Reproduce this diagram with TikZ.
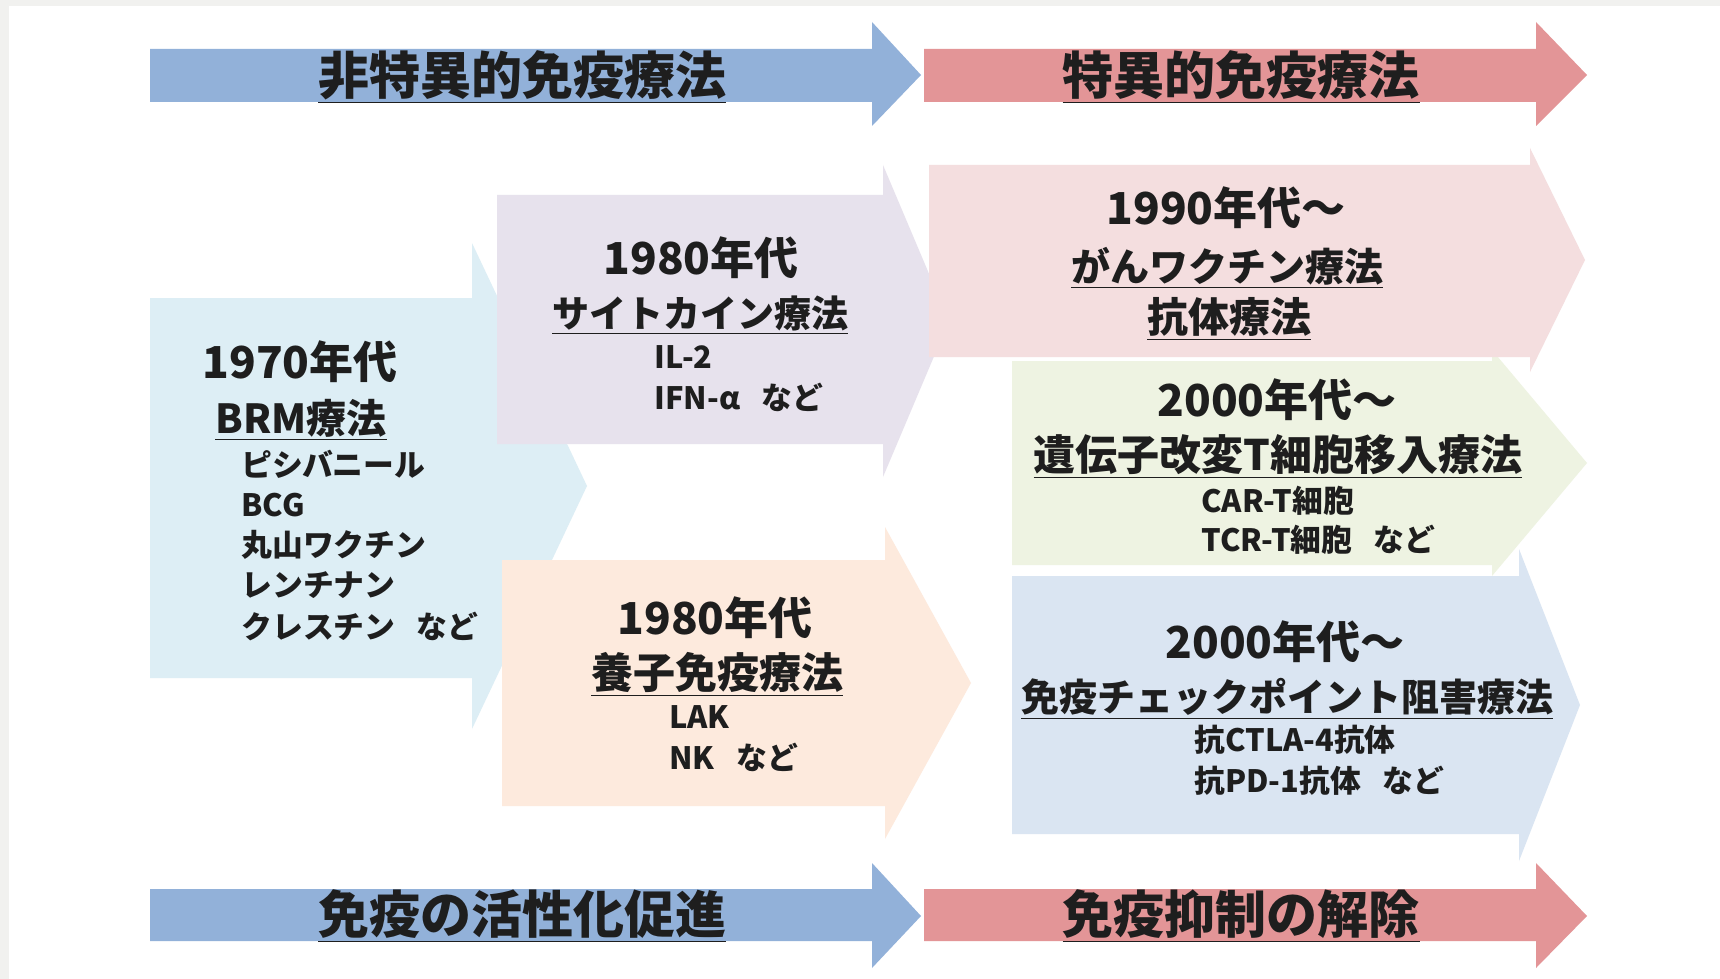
\documentclass[tikz,border=0pt]{standalone}
\usepackage{fontspec}
\setmainfont{Noto Sans CJK JP}
\definecolor{txt}{HTML}{1E1E1E}
\definecolor{framegray}{HTML}{F1F1EF}
\definecolor{hdrblue}{HTML}{92B1D9}
\definecolor{hdrred}{HTML}{E39597}
\definecolor{c70}{HTML}{DDEEF5}
\definecolor{c80a}{HTML}{E7E2ED}
\definecolor{c80b}{HTML}{FDEADD}
\definecolor{c90}{HTML}{F4DEDF}
\definecolor{c00a}{HTML}{EEF3E2}
\definecolor{c00b}{HTML}{DAE5F2}
\newcommand\barrow[9]{\fill[#1] (#2,#3) -- (#5,#3) -- (#5,#6) -- (#8,#9) -- (#5,#7) -- (#5,#4) -- (#2,#4) -- cycle;}
\newcommand\gap{\hspace{0.7em}}
\tikzset{
  base/.style={inner sep=0pt, text=txt, font=\bfseries},
  hdr/.style={base, font=\bfseries\fontsize{25.5}{30}\selectfont},
  ttl/.style={base, font=\bfseries\fontsize{22}{26}\selectfont},
  itm/.style={base, anchor=west, font=\bfseries\fontsize{15.4}{18}\selectfont},
}
\begin{document}
\begin{tikzpicture}[x=0.5pt,y=-0.5pt]
\useasboundingbox (0,0) rectangle (1720,979);
\fill[white] (0,0) rectangle (1720,979);
\fill[framegray] (0,0) rectangle (1720,6);
\fill[framegray] (0,0) rectangle (9,979);
% header / footer arrows
\barrow{hdrblue}{150}{49}{102}{872}{22}{126}{921}{75}
\barrow{hdrred}{924}{49}{102}{1536}{22}{126}{1587}{75}
\barrow{hdrblue}{150}{889}{941}{872}{863}{968}{921}{916}
\barrow{hdrred}{924}{889}{941}{1536}{863}{968}{1587}{916}
% era arrows
\barrow{c70}{150}{298}{678}{472}{243}{729}{587}{486}
\barrow{c80a}{497}{195}{444}{883}{165}{477}{949}{321}
\barrow{c80b}{502}{560}{806}{885}{527}{839}{971}{683}
\barrow{c00a}{1012}{361}{565}{1492}{350}{576}{1587}{463}
\barrow{c90}{929}{165}{357}{1530}{148}{372}{1585}{260}
\barrow{c00b}{1012}{576}{834}{1519}{549}{861}{1580}{705}
% headers
\node[hdr] (h1) at (522,77) {\underline{非特異的免疫療法}};
\node[hdr] (h2) at (1241,77) {\underline{特異的免疫療法}};
\node[hdr] (f1) at (522,916) {\underline{免疫の活性化促進}};
\node[hdr] (f2) at (1241,916) {\underline{免疫抑制の解除}};
% 1970s
\node[ttl] (t70) at (300,362) {1970年代};
\node[base, font=\bfseries\fontsize{20}{24}\selectfont] (s70) at (301,420) {\underline{BRM療法}};
\node[itm] (i701) at (241,464) {ピシバニール};
\node[itm] (i702) at (241,505) {BCG};
\node[itm] (i703) at (241,545) {丸山ワクチン};
\node[itm] (i704) at (241,585) {レンチナン};
\node[itm] (i705) at (241,626) {クレスチン\gap など};
% 1980s cytokine
\node[ttl] (t80a) at (701,258) {1980年代};
\node[base, font=\bfseries\fontsize{18.5}{22}\selectfont] (s80a) at (700,315) {\underline{サイトカイン療法}};
\node[itm] (i80a1) at (654,357) {IL-2};
\node[itm] (i80a2) at (654,397) {IFN-α\gap など};
% 1980s adoptive
\node[ttl] (t80b) at (715,618) {1980年代};
\node[base, font=\bfseries\fontsize{21}{25}\selectfont] (s80b) at (717,674) {\underline{養子免疫療法}};
\node[itm] (i80b1) at (669,717) {LAK};
\node[itm] (i80b2) at (669,757) {NK\gap など};
% 1990s
\node[ttl] (t90) at (1226,208) {1990年代～};
\node[base, font=\bfseries\fontsize{19.5}{23}\selectfont] (s90a) at (1227,268) {\underline{がんワクチン療法}};
\node[base, font=\bfseries\fontsize{20.5}{24}\selectfont] (s90b) at (1229,319) {\underline{抗体療法}};
% 2000s gene-modified T cells
\node[ttl] (t00a) at (1277,400) {2000年代～};
\node[base, font=\bfseries\fontsize{21}{25}\selectfont] (s00a) at (1278,457) {\underline{遺伝子改変T細胞移入療法}};
\node[itm] (i00a1) at (1201,501) {CAR-T細胞};
\node[itm] (i00a2) at (1201,540) {TCR-T細胞\gap など};
% 2000s checkpoint
\node[ttl] (t00b) at (1285,642) {2000年代～};
\node[base, font=\bfseries\fontsize{19}{23}\selectfont] (s00b) at (1287,699) {\underline{免疫チェックポイント阻害療法}};
\node[itm] (i00b1) at (1194,740) {抗CTLA-4抗体};
\node[itm] (i00b2) at (1194,781) {抗PD-1抗体\gap など};
\end{tikzpicture}
\end{document}
